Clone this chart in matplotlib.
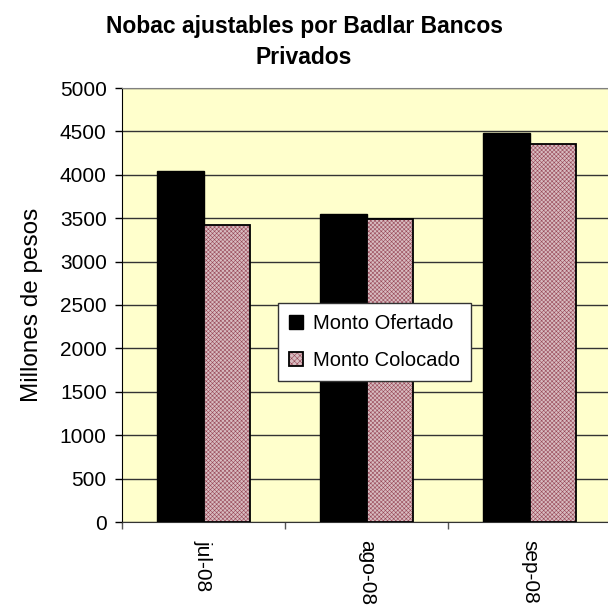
import numpy as np
import matplotlib
matplotlib.use("Agg")
import matplotlib.pyplot as plt
from matplotlib.patches import Patch

# Data
categories = ["jul-08", "ago-08", "sep-08"]
monto_ofertado = [4040, 3550, 4480]
monto_colocado = [3420, 3490, 4360]
y_ticks = [0, 500, 1000, 1500, 2000, 2500, 3000, 3500, 4000, 4500, 5000]

plt.rcParams["font.family"] = ["Liberation Sans", "DejaVu Sans"]
plt.rcParams["hatch.linewidth"] = 0.4

pink_face = "#d8bcc0"
pink_hatch = "#984858"

fig = plt.figure(figsize=(6.08, 6.05), dpi=100)
ax = fig.add_axes([122 / 608, 83 / 605, 489 / 608, 434 / 605])
ax.set_facecolor("#FFFFCC")

x = np.arange(len(categories))
w = 0.288
ax.bar(x - w / 2, monto_ofertado, w, color="black", edgecolor="black",
       linewidth=1, zorder=3)
# checkered fill for the second series, then a black outline on top
ax.bar(x + w / 2, monto_colocado, w, color=pink_face, edgecolor=pink_hatch,
       hatch="xxxxxxxx", linewidth=0, zorder=3)
ax.bar(x + w / 2, monto_colocado, w, color="none", edgecolor="black",
       linewidth=1.3, zorder=4)

ax.set_xlim(-0.5, 2.5)
ax.set_ylim(0, 5000)
ax.set_yticks(y_ticks)
ax.tick_params(axis="y", labelsize=15, length=5, width=1, pad=6)
ax.yaxis.grid(True, color="#333333", linewidth=1, zorder=0)
ax.set_axisbelow(True)

ax.set_xticks(x)
ax.set_xticklabels(categories, rotation=270, fontsize=15, va="top")
ax.tick_params(axis="x", length=0, pad=13)
ax.set_xticks([-0.5, 0.5, 1.5, 2.5], minor=True)
ax.tick_params(axis="x", which="minor", length=5, width=1, color="#555555")

ax.spines["top"].set_color("#808080")
ax.spines["right"].set_visible(False)
ax.spines["left"].set_color("black")
ax.spines["bottom"].set_color("#333333")

ax.set_ylabel("Millones de pesos", fontsize=17.5, labelpad=12)

fig.text(304 / 608, 1 - 42 / 605, "Nobac ajustables por Badlar Bancos\nPrivados",
         ha="center", va="center", fontsize=16.5, fontweight="bold", linespacing=1.45)

h1 = Patch(facecolor="black", edgecolor="black")
h2 = (Patch(facecolor=pink_face, edgecolor=pink_hatch, hatch="xxxxxx", linewidth=0),
      Patch(facecolor="none", edgecolor="black", linewidth=1.3))
leg = ax.legend([h1, h2], ["Monto Ofertado", "Monto Colocado"],
                loc="upper left", bbox_to_anchor=(278 / 608, 1 - 303 / 605),
                bbox_transform=fig.transFigure, frameon=True, fancybox=False,
                framealpha=1, fontsize=14.5, handlelength=0.7, handleheight=0.7,
                borderpad=0.55, labelspacing=0.9, handletextpad=0.5,
                borderaxespad=0)
leg.get_frame().set_edgecolor("#333333")
leg.get_frame().set_linewidth(1)

fig.savefig("out.png", dpi=100)
